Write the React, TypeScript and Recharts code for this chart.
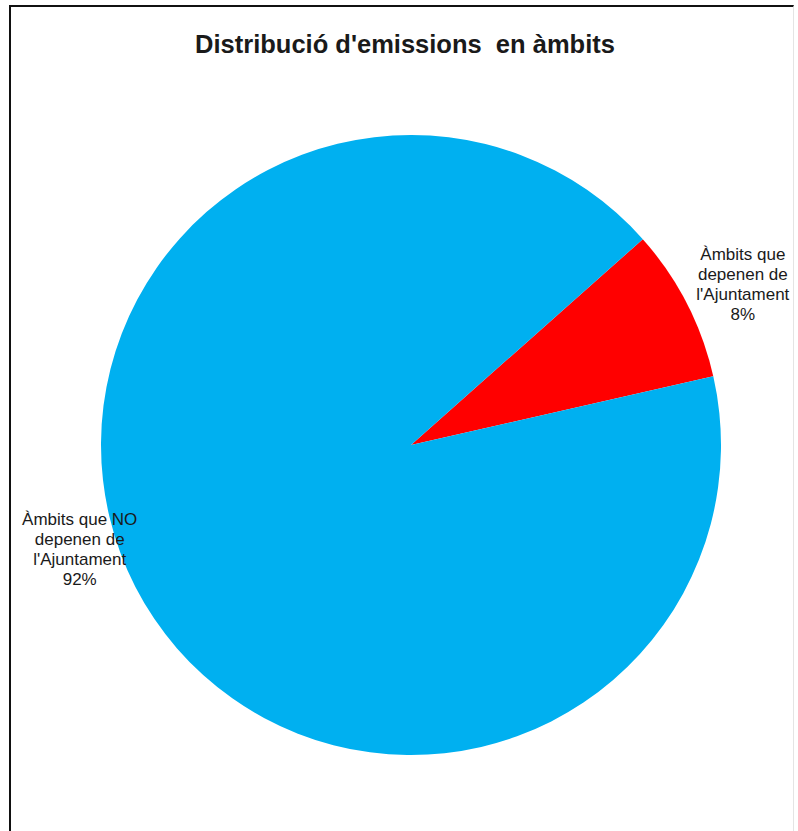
import React from "react";
import { PieChart, Pie, Cell } from "recharts";

const TITLE = "Distribució d'emissions  en àmbits";
const CATEGORIES = [
  ["Àmbits que", "depenen de", "l'Ajuntament"],
  ["Àmbits que NO", "depenen de", "l'Ajuntament"],
];
const SHARES = [8, 92];
const COLORS = ["#FF0000", "#00B0F0"];

const data = SHARES.map((v, i) => ({ name: CATEGORIES[i].join(" "), value: v }));

// Excel "best fit" label placement: radius factor and angle tweak per slice
const LABEL_SPOT = [
  { k: 1.19, da: -1.3 },
  { k: 1.12, da: -9.8 },
];

const RAD = Math.PI / 180;

function SliceLabel(props: any) {
  const { cx, cy, midAngle, outerRadius, percent, index } = props;
  const spot = LABEL_SPOT[index];
  const a = (midAngle + spot.da) * RAD;
  const x = cx + outerRadius * spot.k * Math.cos(a);
  const y = cy - outerRadius * spot.k * Math.sin(a);
  const lines = [...CATEGORIES[index], `${Math.round(percent * 100)}%`];
  const lh = 20;
  const y0 = y - ((lines.length - 1) * lh) / 2;
  return (
    <text
      x={x}
      y={y0}
      textAnchor="middle"
      fontFamily="'Liberation Sans', Arial, sans-serif"
      fontSize={17}
      fill="#1a1a1a"
    >
      {lines.map((t, i) => (
        <tspan key={i} x={x} y={y0 + i * lh} dy="0.35em">
          {t}
        </tspan>
      ))}
    </text>
  );
}

export default function App() {
  return (
    <div style={{ position: "absolute", left: 0, top: 0, width: 798, height: 831, background: "#fff" }}>
      <div
        style={{
          position: "absolute",
          left: 9,
          top: 5,
          width: 785,
          height: 830,
          borderLeft: "2px solid #111",
          borderTop: "2px solid #111",
          borderRight: "1px solid #e4e4e4",
          boxSizing: "border-box",
        }}
      />
      <div style={{ position: "absolute", left: 0, top: 0 }}>
        <PieChart width={798} height={831}>
          <text
            x={405}
            y={53}
            textAnchor="middle"
            fontFamily="'Liberation Sans', Arial, sans-serif"
            fontWeight="bold"
            fontSize={25.5}
            fill="#1a1a1a"
            style={{ whiteSpace: "pre" }}
          >
            {TITLE}
          </text>
          <Pie
            data={data}
            dataKey="value"
            nameKey="name"
            cx={406}
            cy={440}
            outerRadius={310}
            startAngle={12.8}
            endAngle={372.8}
            stroke="none"
            labelLine={false}
            label={SliceLabel}
            isAnimationActive={false}
          >
            {data.map((d, i) => (
              <Cell key={d.name} fill={COLORS[i]} />
            ))}
          </Pie>
        </PieChart>
      </div>
    </div>
  );
}
